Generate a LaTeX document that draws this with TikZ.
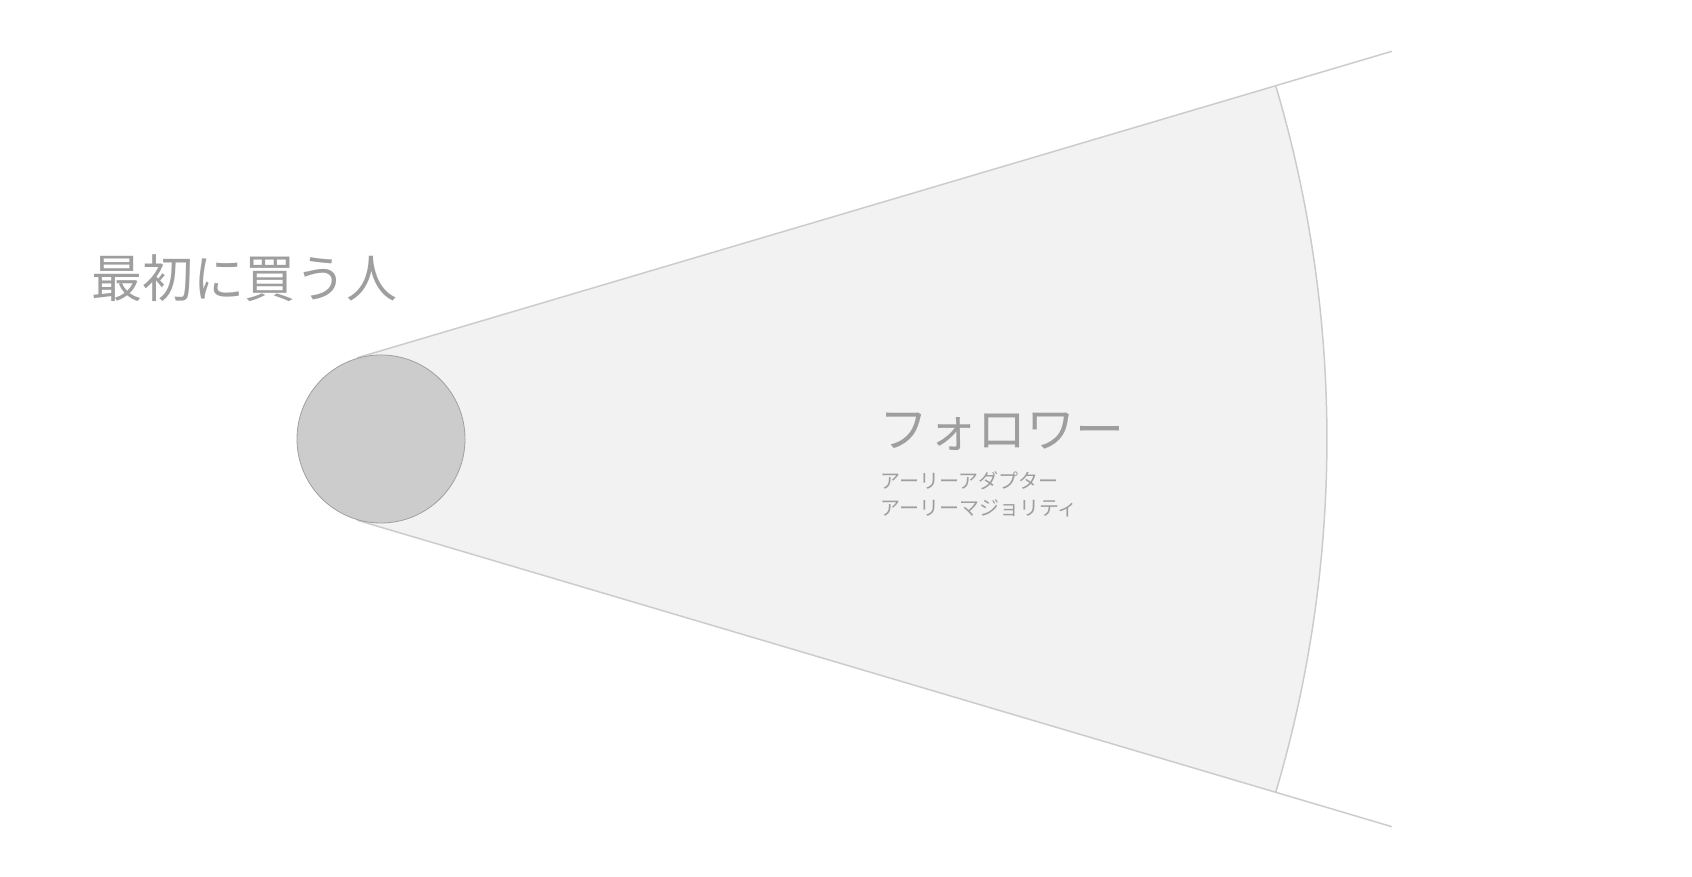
\documentclass[tikz,border=0pt]{standalone}
\usepackage{fontspec}
\usetikzlibrary{calc}
\newfontfamily\jp{Noto Sans CJK JP}
\definecolor{conefill}{HTML}{F2F2F2}
\definecolor{coneline}{HTML}{CCCCCC}
\definecolor{dotfill}{HTML}{CCCCCC}
\definecolor{dotline}{HTML}{A0A0A0}
\definecolor{txt}{HTML}{9E9E9E}
\tikzset{
  edgeline/.style={draw=coneline, line width=1.5pt},
  dotnode/.style={circle, fill=dotfill, draw=dotline, line width=0.8pt, minimum size=168pt, inner sep=0pt},
  bigtext/.style={text=txt, inner sep=0pt, font=\jp\fontsize{51}{60}\selectfont},
  midtext/.style={text=txt, inner sep=0pt, font=\jp\fontsize{49}{58}\selectfont},
  smalltext/.style={text=txt, inner sep=0pt, font=\jp\fontsize{20}{27}\selectfont, align=left},
}
\begin{document}
\begin{tikzpicture}[x=1pt,y=1pt]
\useasboundingbox (0,0) rectangle (1692,876);
\coordinate (apex) at (83,437);
\coordinate (t1) at ($(apex)+(16.5:286)$);
\coordinate (t2) at ($(apex)+(-16.5:286)$);
\coordinate (a1) at ($(apex)+(16.5:1244)$);
\coordinate (a2) at ($(apex)+(-16.5:1244)$);
\coordinate (e1) at ($(apex)+(16.5:1365)$);
\coordinate (e2) at ($(apex)+(-16.5:1365)$);
\fill[conefill] (t1) -- (a1) arc[start angle=16.5, end angle=-16.5, radius=1244] -- (t2) -- cycle;
\draw[edgeline] (a1) arc[start angle=16.5, end angle=-16.5, radius=1244];
\draw[edgeline] (t1) -- (e1);
\draw[edgeline] (t2) -- (e2);
\node[dotnode] (dot) at (381,437) {};
\node[bigtext] (first) at (244,598) {最初に買う人};
\node[midtext, anchor=west] (follower) at (879,444) {フォロワー};
\node[smalltext, anchor=north west] (sub) at (880,405) {アーリーアダプター\\アーリーマジョリティ};
\end{tikzpicture}
\end{document}
